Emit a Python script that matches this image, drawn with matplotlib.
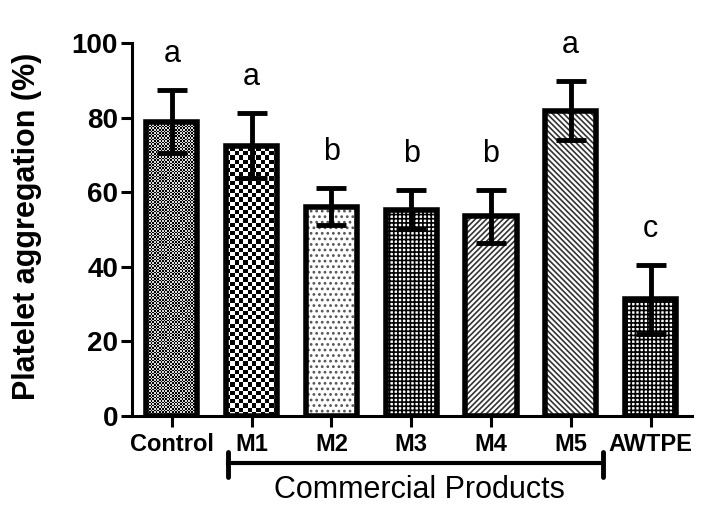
import numpy as np
import matplotlib
matplotlib.use("Agg")
import matplotlib.pyplot as plt
from matplotlib.transforms import blended_transform_factory

# ---- data ----
categories = ["Control", "M1", "M2", "M3", "M4", "M5", "AWTPE"]
values = [78.9, 72.5, 56.1, 55.3, 53.6, 81.9, 31.3]
errors = [8.4, 8.8, 5.0, 5.2, 7.1, 7.9, 9.2]
letters = ["a", "a", "b", "b", "b", "a", "c"]
ylabel = "Platelet aggregation (%)"
group_label = "Commercial Products"
yticks = [0, 20, 40, 60, 80, 100]

plt.rcParams['font.family'] = ['Liberation Sans', 'DejaVu Sans']
plt.rcParams['hatch.linewidth'] = 1.2

fig = plt.figure(figsize=(7.18, 5.16), dpi=100)
ax = fig.add_axes([132/718, 1-416/516, (692-132)/718, (416-43)/516])
ax.set_xlim(-0.5, 6.52)
ax.set_ylim(0, 100)

x = np.arange(len(categories))
width = 0.64
lw = 4.0

# pixel scale for checker fills
px_x = (6.52 + 0.5) / (692 - 132)
px_y = 100 / (416 - 43)

fills = {
    0: ("checker", 1.6),
    1: ("checker", 4.2),
    2: ("hatch", "...", "#555555"),
    3: ("hatch", "++++", "black"),
    4: ("hatch", "//////", "#333333"),
    5: ("hatch", "\\\\\\\\\\\\", "#333333"),
    6: ("hatch", "++++", "black"),
}

for i, (xi, v) in enumerate(zip(x, values)):
    f = fills[i]
    if f[0] == "hatch":
        ax.bar(xi, v, width, color="white", edgecolor=f[2], hatch=f[1],
               linewidth=0, zorder=2)
    else:
        cell = f[1]
        bars = ax.bar(xi, v, width, color="white", linewidth=0, zorder=2)
        patch = bars[0]
        w_px = width / px_x
        h_px = v / px_y
        nx = max(1, int(round(w_px / cell)))
        ny = max(1, int(round(h_px / cell)))
        arr = (np.add.outer(np.arange(ny), np.arange(nx)) % 2).astype(float)
        hi = 1.0 if i == 1 else 0.85
        arr = arr * hi
        ax.imshow(arr, cmap="gray", vmin=0, vmax=1, interpolation="nearest",
                  extent=(xi - width/2, xi + width/2, 0, ny * cell * px_y),
                  origin="lower", aspect="auto", zorder=2.5, clip_path=patch)

# outlines
ax.bar(x, values, width, fill=False, edgecolor="black", linewidth=lw, zorder=3)

# error bars
ax.errorbar(x, values, yerr=errors, fmt="none", ecolor="black",
            elinewidth=3.5, capsize=11, capthick=3.5, zorder=4)

# significance letters
for xi, v, e, t in zip(x, values, errors, letters):
    ax.text(xi, v + e + 7.5, t, ha="center", va="baseline", fontsize=22)

ax.set_xlim(-0.5, 6.52)
ax.set_ylim(0, 100)

for s in ["top", "right"]:
    ax.spines[s].set_visible(False)
for s in ["left", "bottom"]:
    ax.spines[s].set_linewidth(2.2)

ax.set_yticks(yticks)
ax.set_yticklabels([str(t) for t in yticks], fontsize=20, fontweight="bold")
ax.set_xticks(x)
ax.set_xticklabels(categories, fontsize=17, fontweight="bold")
ax.tick_params(axis="both", direction="out", length=8, width=2.2)
ax.tick_params(axis="y", pad=2)
ax.tick_params(axis="x", pad=4)

fig.text(27/718, 1 - 226/516, ylabel, rotation=90, ha="center", va="center",
         fontsize=22, fontweight="bold")

# bracket for commercial products
trans = blended_transform_factory(ax.transData, ax.transAxes)
xb0, xb1 = 0.70, 5.40
yb = -0.126
ax.plot([xb0, xb1], [yb, yb], color="black", lw=3, transform=trans, clip_on=False)
for xb in (xb0, xb1):
    ax.plot([xb, xb], [-0.097, -0.163], color="black", lw=3.5,
            transform=trans, clip_on=False, solid_capstyle="round")
ax.text(3.1, -0.198, group_label, transform=trans, ha="center", va="center",
        fontsize=22)

fig.savefig("out.png", dpi=100)
